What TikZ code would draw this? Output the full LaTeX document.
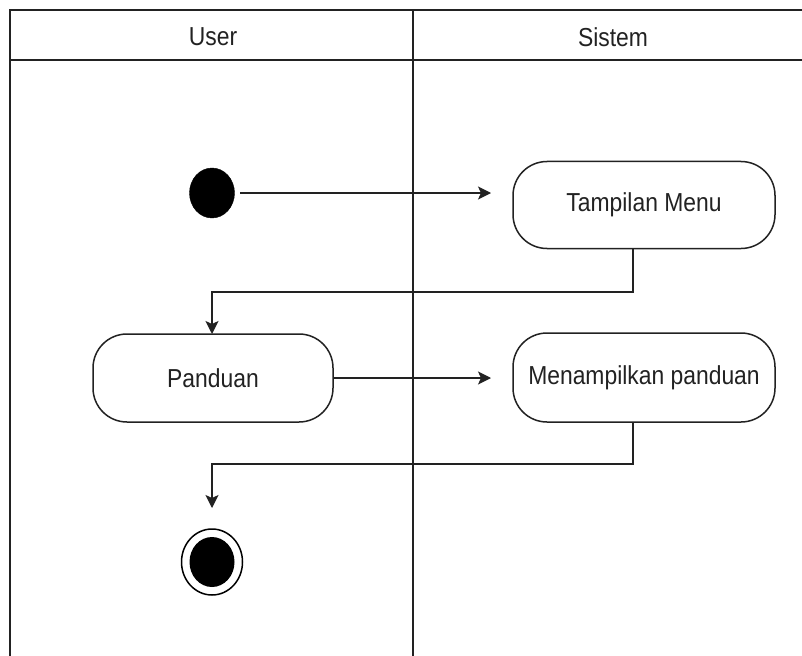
\documentclass[tikz,border=0pt]{standalone}
\usepackage{fontspec}
\setmainfont{Liberation Sans}[FakeStretch=0.88]
\usetikzlibrary{arrows.meta,shapes.geometric}
\definecolor{ink}{HTML}{222222}
\definecolor{txt}{HTML}{222222}
\begin{document}
\begin{tikzpicture}[x=1pt,y=-1pt,
  lane/.style={draw=ink,line width=1.6pt},
  action/.style={draw=ink,line width=1.5pt,fill=white,rounded corners=34pt,
    minimum width=262pt,minimum height=87pt,inner sep=0pt,
    font=\fontsize{26}{30}\selectfont,text=txt},
  initial/.style={ellipse,fill=black,draw=black,minimum width=45pt,minimum height=50pt,inner sep=0pt},
  flow/.style={draw=ink,line width=1.5pt,-{Stealth[length=13pt,width=13pt,inset=3pt]}},
  head/.style={font=\fontsize{26}{30}\selectfont,text=txt}]
\useasboundingbox (0,0) rectangle (802,655);
\fill[white] (0,0) rectangle (802,655);
\clip (0,0) rectangle (802,655);

% swimlane frame
\draw[lane] (10,10) rectangle (815,670);
\draw[lane] (10,60) -- (815,60);
\draw[lane] (413,10) -- (413,670);
\node[head] (userlane) at (213,37) {User};
\node[head] (sistemlane) at (613,37) {Sistem};

% activity nodes
\node[initial] (start) at (212,193) {};
\node[action] (menu) at (644,205) {Tampilan Menu};
\node[action,minimum width=240pt,minimum height=88pt] (panduan) at (213,378) {Panduan};
\node[action,minimum height=89pt] (tampil) at (644,377.5) {Menampilkan panduan};
\node[ellipse,draw=black,line width=1.5pt,minimum width=61pt,minimum height=66pt,inner sep=0pt] (endo) at (212,562) {};
\node[ellipse,fill=black,minimum width=45pt,minimum height=50pt,inner sep=0pt] (endi) at (212,562) {};

% connector end points
\coordinate (a1s) at (240,193);
\coordinate (a1e) at (491,193);
\coordinate (a2e) at (491,378);
\coordinate (m1) at (633,248);
\coordinate (t1) at (633,422);

% control flow
\draw[flow] (a1s) -- (a1e);
\draw[flow] (m1) -- (633,292) -- (212,292) -- (212,334);
\draw[flow] (panduan.east) -- (a2e);
\draw[flow] (t1) -- (633,464) -- (212,464) -- (212,508);
\end{tikzpicture}
\end{document}
